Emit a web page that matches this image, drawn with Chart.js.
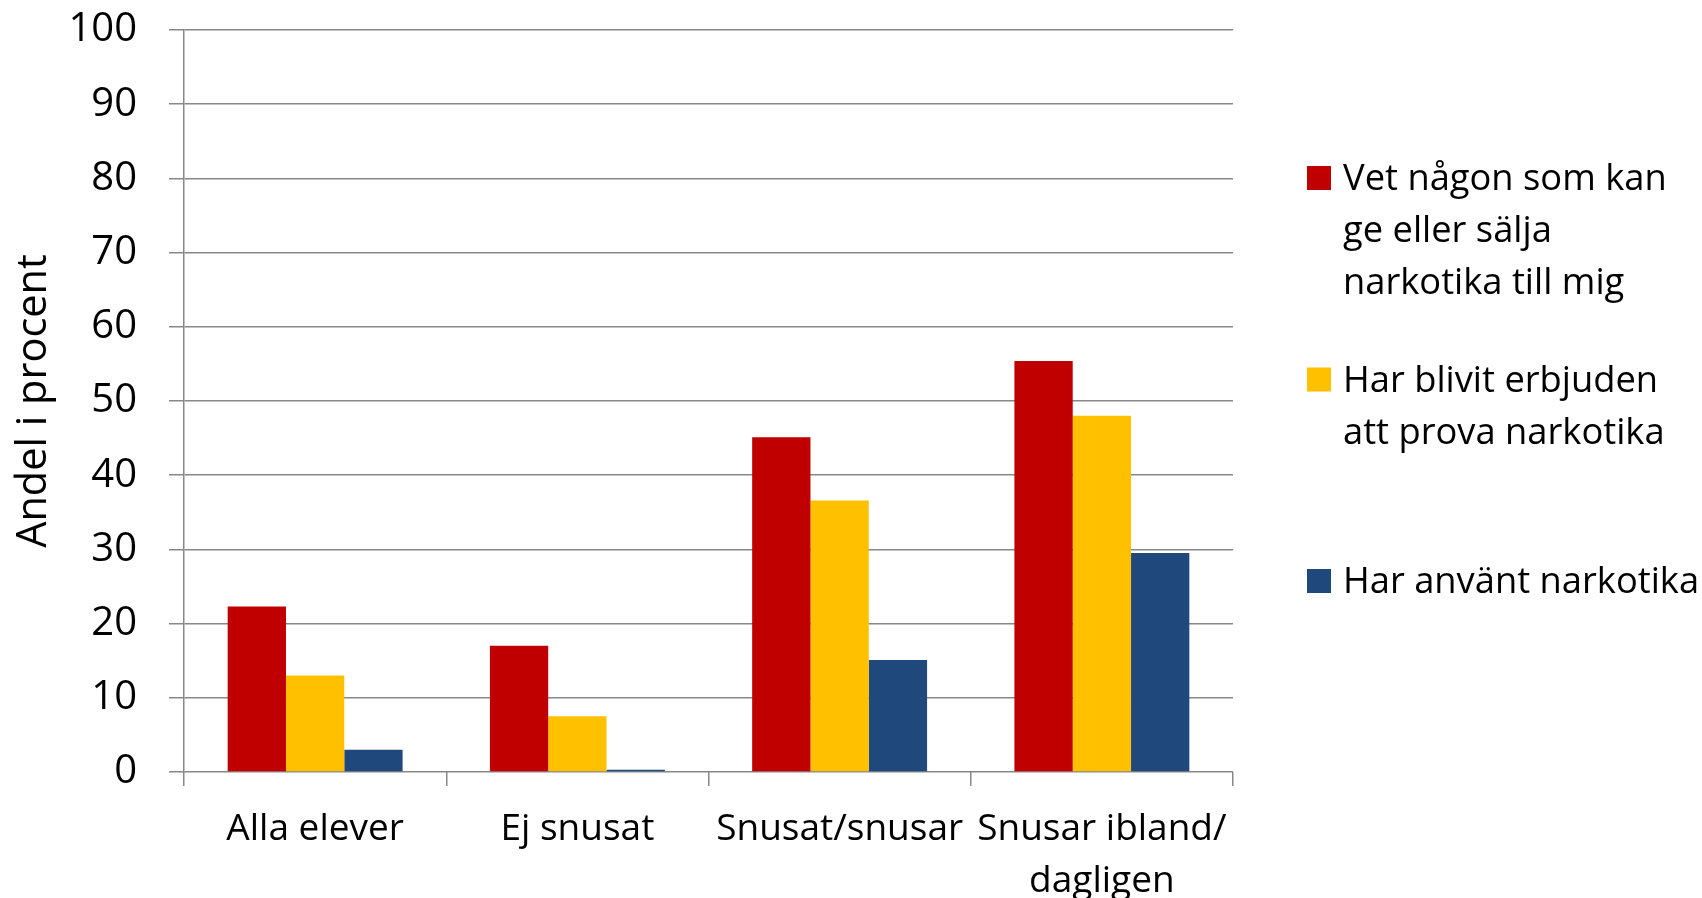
<!DOCTYPE html>
<html>
<head>
<meta charset="utf-8">
<script src="https://cdn.jsdelivr.net/npm/chart.js@4/dist/chart.umd.min.js"></script>
<style>
  html, body { margin: 0; padding: 0; background: #fff; }
  #wrap { width: 1702px; height: 898px; }
</style>
</head>
<body>
<div id="wrap"><canvas id="myChart" width="1702" height="898"></canvas></div>
<script>
// categories on the x axis (last one wraps onto two lines)
const categories = ['Alla elever', 'Ej snusat', 'Snusat/snusar', ['Snusar ibland/', 'dagligen']];

// series names, split the way the legend wraps them
const nameKnowsSeller = ['Vet någon som kan', 'ge eller sälja', 'narkotika till mig'];
const nameBeenOffered = ['Har blivit erbjuden', 'att prova narkotika'];
const nameUsedDrugs = ['Har använt narkotika'];

// values in percent
const knowsSeller = [22.3, 17.0, 45.1, 55.4];
const beenOffered = [13.0, 7.5, 36.6, 48.0];
const usedDrugs = [3.0, 0.3, 15.1, 29.5];

// y axis
const yMin = 0;
const yMax = 100;
const yStep = 10;
const yTitle = 'Andel i procent';

const fontFamily = "'Open Sans', 'Noto Sans', sans-serif";
const gridColor = '#888888';

// legend drawn on the right, Excel style (box next to first line)
const sideLegend = {
  id: 'sideLegend',
  afterDraw(chart) {
    const ctx = chart.ctx;
    const boxX = 1307, textX = 1343, box = 24, lineGap = 52;
    const firstCenter = 242, itemGap = 175.5;
    ctx.save();
    ctx.font = '36.3px ' + fontFamily;
    ctx.textBaseline = 'alphabetic';
    ctx.textAlign = 'left';
    chart.data.datasets.forEach((ds, i) => {
      const lines = ds.lines;
      const mid = firstCenter + i * itemGap;
      const base0 = mid - (lines.length - 1) * lineGap / 2;
      ctx.fillStyle = ds.backgroundColor;
      ctx.fillRect(boxX, base0 - box, box, box);
      ctx.fillStyle = '#000';
      lines.forEach((t, j) => ctx.fillText(t, textX, base0 + j * lineGap));
    });
    ctx.restore();
  }
};

new Chart('myChart', {
  type: 'bar',
  data: {
    labels: categories,
    datasets: [
      { label: nameKnowsSeller.join(' '), lines: nameKnowsSeller, data: knowsSeller, backgroundColor: '#C00000' },
      { label: nameBeenOffered.join(' '), lines: nameBeenOffered, data: beenOffered, backgroundColor: '#FFC000' },
      { label: nameUsedDrugs.join(' '), lines: nameUsedDrugs, data: usedDrugs, backgroundColor: '#1F497D' }
    ]
  },
  options: {
    responsive: false,
    animation: false,
    layout: { padding: { top: 30, right: 469, bottom: 0, left: 0 } },
    datasets: { bar: { categoryPercentage: 0.667, barPercentage: 1.0 } },
    plugins: {
      legend: { display: false },
      tooltip: { enabled: false }
    },
    scales: {
      x: {
        grid: { drawOnChartArea: false, drawTicks: true, tickLength: 14, color: gridColor, lineWidth: 1.5 },
        border: { display: false },
        ticks: {
          color: '#000',
          padding: 18,
          maxRotation: 0,
          autoSkip: false,
          font: { family: fontFamily, size: 37, lineHeight: 1.4 }
        },
        afterFit(scale) { scale.height = 126; }
      },
      y: {
        min: yMin,
        max: yMax,
        grid: { color: gridColor, lineWidth: 1.5, tickLength: 15 },
        border: { color: gridColor, width: 1.5 },
        ticks: {
          stepSize: yStep,
          color: '#000',
          padding: 32,
          font: { family: fontFamily, size: 40 }
        },
        title: {
          display: true,
          text: yTitle,
          color: '#000',
          padding: { top: 9, bottom: 0 },
          font: { family: fontFamily, size: 41.5 }
        },
        afterFit(scale) {
          scale.width = 184;
          scale.paddingTop = 0;
          scale.paddingBottom = 0;
        }
      }
    }
  },
  plugins: [sideLegend]
});
</script>
</body>
</html>
